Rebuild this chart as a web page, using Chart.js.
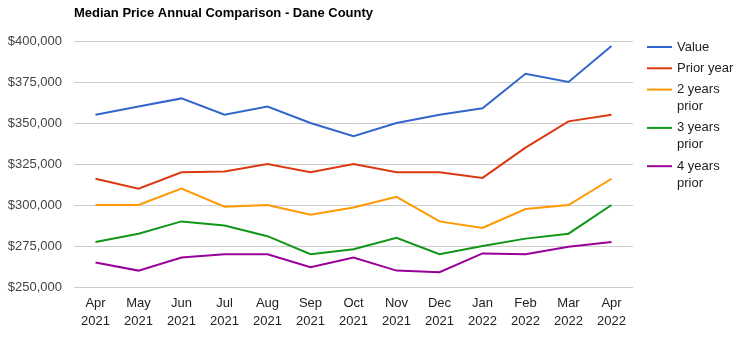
<!DOCTYPE html>
<html>
<head>
<meta charset="utf-8">
<script src="https://cdn.jsdelivr.net/npm/chart.js@4/dist/chart.umd.min.js"></script>
<style>
  html, body { margin: 0; padding: 0; background: #fff; }
  #wrap { width: 746px; height: 342px; position: relative; }
</style>
</head>
<body>
<div id="wrap"><canvas id="c" width="746" height="342"></canvas></div>
<script>
const categories = [
  ['Apr','2021'],['May','2021'],['Jun','2021'],['Jul','2021'],['Aug','2021'],['Sep','2021'],
  ['Oct','2021'],['Nov','2021'],['Dec','2021'],['Jan','2022'],['Feb','2022'],['Mar','2022'],['Apr','2022']
];
const valueSeries     = [355000, 360000, 365000, 355000, 360000, 350000, 342000, 350000, 355000, 359000, 380000, 375000, 397000];
const priorYear       = [316000, 310000, 320000, 320500, 325000, 320000, 325000, 320000, 320000, 316500, 335000, 351000, 355000];
const twoYearsPrior   = [300000, 300000, 310000, 299000, 300000, 294000, 298500, 305000, 290000, 286000, 297500, 300000, 316000];
const threeYearsPrior = [277500, 282500, 290000, 287500, 281000, 270000, 273000, 280000, 270000, 275000, 279500, 282500, 300000];
const fourYearsPrior  = [265000, 260000, 268000, 270000, 270000, 262000, 268000, 260000, 259000, 270500, 270000, 274500, 277500];
const seriesNames = [['Value'], ['Prior year'], ['2 years', 'prior'], ['3 years', 'prior'], ['4 years', 'prior']];
const seriesColors = ['#3366cc', '#dc3912', '#ff9900', '#109618', '#990099'];
const yTicks = [250000, 275000, 300000, 325000, 350000, 375000, 400000];
const chartTitle = 'Median Price Annual Comparison - Dane County';

const FONT = "Arial, 'Liberation Sans', sans-serif";
const allSeries = [valueSeries, priorYear, twoYearsPrior, threeYearsPrior, fourYearsPrior];

const legendPlugin = {
  id: 'sideLegend',
  afterDraw(chart) {
    const ctx = chart.ctx;
    const x0 = chart.chartArea.right + 14;
    let y = 47;
    ctx.save();
    ctx.font = '13px ' + FONT;
    ctx.textBaseline = 'middle';
    ctx.textAlign = 'left';
    chart.data.datasets.forEach((ds, i) => {
      const lines = seriesNames[i];
      ctx.strokeStyle = ds.borderColor;
      ctx.lineWidth = 2;
      ctx.beginPath();
      ctx.moveTo(x0, y);
      ctx.lineTo(x0 + 25, y);
      ctx.stroke();
      ctx.fillStyle = '#222222';
      lines.forEach((t, k) => ctx.fillText(t, x0 + 30, y + k * 17));
      y += 21.3 + 17 * (lines.length - 1);
    });
    ctx.restore();
  }
};

new Chart(document.getElementById('c'), {
  type: 'line',
  data: {
    labels: categories,
    datasets: allSeries.map((d, i) => ({
      label: seriesNames[i].join(' '),
      data: d,
      borderColor: seriesColors[i],
      backgroundColor: seriesColors[i],
      borderWidth: 2,
      pointRadius: 0,
      pointHoverRadius: 0,
      tension: 0,
      fill: false
    }))
  },
  options: {
    responsive: false,
    animation: false,
    events: [],
    layout: { padding: { left: 0, right: 113, top: 0, bottom: 0 } },
    plugins: {
      legend: { display: false },
      tooltip: { enabled: false },
      title: {
        display: true,
        text: chartTitle,
        align: 'start',
        fullSize: false,
        color: '#000000',
        font: { family: FONT, size: 13, weight: 'bold', lineHeight: 1.2 },
        padding: { top: 6, bottom: 19.4 }
      }
    },
    scales: {
      x: {
        type: 'category',
        offset: true,
        grid: { display: false, drawTicks: false },
        border: { display: false },
        ticks: {
          color: '#222222',
          padding: 7,
          maxRotation: 0,
          autoSkip: false,
          font: { family: FONT, size: 13, lineHeight: 1.4 }
        },
        afterFit(s) { s.height = 55; }
      },
      y: {
        min: 250000,
        max: 400000,
        afterBuildTicks(s) { s.ticks = yTicks.map(v => ({ value: v })); },
        grid: { color: '#cccccc', lineWidth: 1, drawTicks: false },
        border: { display: false },
        ticks: {
          color: '#444444',
          padding: 12,
          font: { family: FONT, size: 13 },
          callback: v => '$' + Number(v).toLocaleString('en-US')
        },
        afterFit(s) { s.width = 74; }
      }
    }
  },
  plugins: [legendPlugin]
});
</script>
</body>
</html>
